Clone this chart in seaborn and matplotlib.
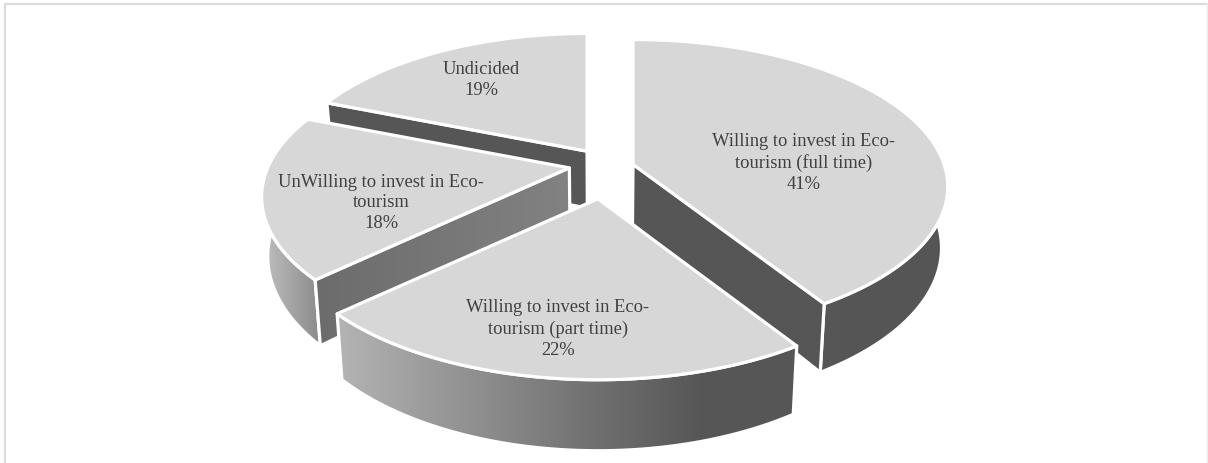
import numpy as np
import matplotlib
matplotlib.use("Agg")
import matplotlib.pyplot as plt
from matplotlib.patches import Polygon
import seaborn as sns

# Survey shares, clockwise from twelve o'clock
categories = [
    "Willing to invest in Eco-\ntourism (full time)",
    "Willing to invest in Eco-\ntourism (part time)",
    "UnWilling to invest in Eco-\ntourism",
    "Undicided",
]
shares = [41, 22, 18, 19]

# Label anchors in figure pixels
label_x = [804, 558, 381, 481]
label_y = [163, 329, 203, 80]

# Disc projection in pixels
CX, CY = 603, 169
RX, RY = 311, 146
DEPTH = 57
SHRINK = 0.982
EXPLODE_X, EXPLODE_Y = 33, 25

# Per-slice fine adjustments of size, foreshortening and vertical placement
slice_scale_x = [1.0, 0.995, 0.97, 0.965]
slice_scale_y = [0.985, 0.995, 0.97, 0.965]
slice_persp = [0.152, 0.197, 0.197, 0.197]
slice_nudge_y = [3, 0, -5, 1]
slice_depth = [1.05, 1.0, 1.0, 1.0]

TOP = "#d7d7d7"
EDGE = "white"
EDGE_W = 2.3

# Grey stops of the rim and of the cut face per slice
rim_ramp = [
    ["#585858", "#555555"],
    ["#b4b4b4", "#9b9b9b", "#838383", "#6c6c6c", "#565656", "#565656"],
    ["#c0c0c0", "#8a8a8a"],
    ["#8a8a8a", "#8a8a8a"],
]
cut_ramp = [["#565656", "#565656"], None, ["#6c6c6c", "#828282"], ["#565656", "#565656"]]
# Which radial edge shows its cut face: 0 = start angle, 1 = end angle
cut_side = [1, None, 0, 0]
draw_order = [3, 0, 2, 1]

sns.set_theme(style="white")
plt.rcParams["font.family"] = ["Liberation Serif", "DejaVu Serif"]

fig = plt.figure(figsize=(12.08, 4.64), dpi=100, facecolor="white")
ax = fig.add_axes([0, 0, 1, 1])
ax.set_axis_off()


def disc(theta, i):
    """Offset from a slice apex for clockwise angle theta (radians from north)."""
    u, v = np.sin(theta), np.cos(theta)
    w = 1 + slice_persp[i] * v
    return slice_scale_x[i] * RX * u / w, -slice_scale_y[i] * RY * v / w, w


def gradient_fill(points, ramp):
    """Fill a polygon with a horizontal grey ramp between its x extremes."""
    pts = np.asarray(points)
    colours = sns.blend_palette(ramp, 128)
    img = np.array(colours)[None, :, :]
    patch = Polygon(pts, closed=True, facecolor="none", edgecolor="none")
    ax.add_patch(patch)
    im = ax.imshow(
        img,
        extent=(pts[:, 0].min(), pts[:, 0].max(), pts[:, 1].max(), pts[:, 1].min()),
        aspect="auto",
        interpolation="bilinear",
        zorder=patch.get_zorder(),
    )
    im.set_clip_path(patch)
    ax.add_patch(Polygon(pts, closed=True, facecolor="none", edgecolor=EDGE,
                         linewidth=EDGE_W, joinstyle="round"))


def drop(x, y, w, i):
    """Lower a top-surface point to the base of the pie."""
    return CX + (x - CX) * SHRINK, y + DEPTH * slice_depth[i] / w


edges = np.cumsum([0] + shares) / sum(shares) * 2 * np.pi

for i in draw_order:
    t0, t1 = edges[i], edges[i + 1]
    mid = 0.5 * (t0 + t1)
    mid_w = 1 + 0.197 * np.cos(mid)
    apex_x = CX + EXPLODE_X * np.sin(mid) / mid_w
    apex_y = CY - EXPLODE_Y * np.cos(mid) / mid_w + slice_nudge_y[i]

    thetas = np.linspace(t0, t1, 160)
    dx, dy, w = disc(thetas, i)
    xs, ys = apex_x + dx, apex_y + dy
    bx, by = drop(xs, ys, w, i)

    # Outer rim
    rim = np.r_[np.c_[xs, ys], np.c_[bx, by][::-1]]
    gradient_fill(rim, rim_ramp[i])

    # Cut face along one radial edge
    if cut_side[i] is not None:
        k = -1 if cut_side[i] == 1 else 0
        ab = drop(apex_x, apex_y, 1.0, i)
        face = [(apex_x, apex_y), (xs[k], ys[k]), (bx[k], by[k]), ab]
        gradient_fill(face, cut_ramp[i])

    # Top surface
    ax.add_patch(Polygon(np.r_[[[apex_x, apex_y]], np.c_[xs, ys]], closed=True,
                         facecolor=TOP, edgecolor=EDGE, linewidth=EDGE_W,
                         joinstyle="round"))

for name, share, x, y in zip(categories, shares, label_x, label_y):
    ax.text(x, y, f"{name}\n{share}%", ha="center", va="center", ma="center",
            fontsize=13.3, color="#404040", linespacing=1.3)

# Thin grey frame, open at the bottom
ax.plot([5, 5, 1207], [464, 4.5, 4.5], color="#dcdcdc", lw=1.6, solid_joinstyle="miter")
ax.plot([1207, 1207], [4.5, 464], color="#ececec", lw=1.0)

ax.set_xlim(0, 1208)
ax.set_ylim(464, 0)
fig.savefig("out.png", dpi=100, facecolor="white")
